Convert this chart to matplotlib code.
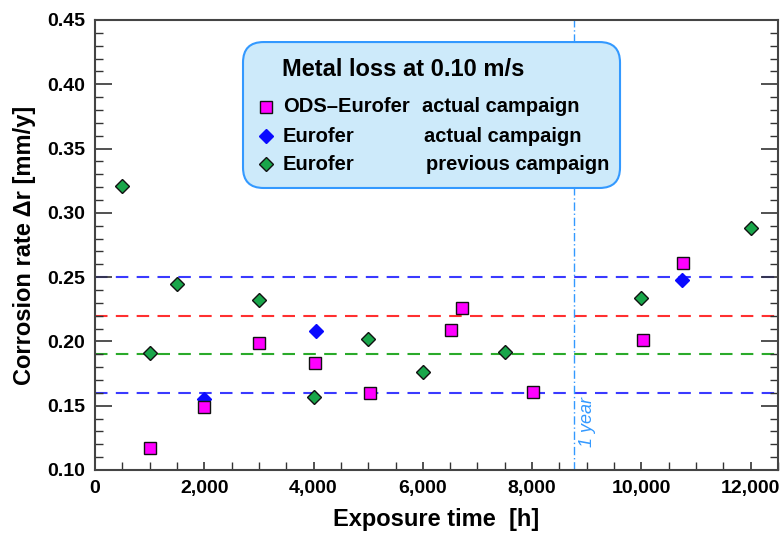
import matplotlib
matplotlib.use("Agg")
import matplotlib.pyplot as plt
from matplotlib.patches import FancyBboxPatch
from matplotlib.ticker import MultipleLocator, FuncFormatter

plt.rcParams['font.family'] = ['Liberation Sans', 'DejaVu Sans']

# Data
ods_x = [1000, 2000, 3000, 4030, 5030, 6510, 6710, 8020, 10030, 10760]
ods_y = [0.117, 0.149, 0.199, 0.183, 0.160, 0.209, 0.226, 0.161, 0.201, 0.261]
eur_act_x = [2000, 4040, 10750]
eur_act_y = [0.155, 0.208, 0.248]
eur_prev_x = [500, 1000, 1500, 3000, 4000, 5000, 6000, 7500, 10000, 12000]
eur_prev_y = [0.321, 0.191, 0.245, 0.232, 0.157, 0.202, 0.176, 0.192, 0.234, 0.288]
hlines = [0.25, 0.22, 0.19, 0.16]
hline_colors = ['#3a3aff', '#ff3030', '#2aaa2a', '#3a3aff']
one_year = 8760

legend_title = 'Metal loss at 0.10 m/s'
legend_names = ['ODS\u2013Eurofer', 'Eurofer', 'Eurofer']
legend_camp = ['actual campaign', 'actual campaign', 'previous campaign']

fig = plt.figure(figsize=(7.82, 5.37), dpi=100)
ax = fig.add_axes([95/782, 67/537, 683/782, 450/537])

for y, c in zip(hlines, hline_colors):
    ax.axhline(y, color=c, lw=1.5, ls=(0, (6, 4)), zorder=1)
ax.axvline(one_year, color='#3399ff', lw=1.0, ls=(0, (6, 2, 1, 2)), zorder=1)
ax.text(one_year + 260, 0.137, '1 year', rotation=90, color='#3399ff',
        fontsize=13, style='italic', ha='center', va='center')

ax.plot(eur_prev_x, eur_prev_y, 'D', ms=7.2, mfc='#19a64a', mec='#111111', mew=1.0, ls='none', zorder=3)
ax.plot(eur_act_x, eur_act_y, 'D', ms=7.2, mfc='#0a0aff', mec='#0a0aff', mew=1.0, ls='none', zorder=3)
ax.plot(ods_x, ods_y, 's', ms=9.2, mfc='#ff00ff', mec='#111111', mew=1.0, ls='none', zorder=4)

ax.set_xlim(0, 12500)
ax.set_ylim(0.10, 0.45)
ax.xaxis.set_major_locator(MultipleLocator(2000))
ax.xaxis.set_minor_locator(MultipleLocator(500))
ax.yaxis.set_major_locator(MultipleLocator(0.05))
ax.yaxis.set_minor_locator(MultipleLocator(0.01))
ax.xaxis.set_major_formatter(FuncFormatter(lambda v, p: f'{int(v):,}'))
ax.yaxis.set_major_formatter(FuncFormatter(lambda v, p: f'{v:.2f}'))

ax.tick_params(axis='y', which='major', direction='in', length=12, width=1.2, left=True, right=True, color='#333333')
ax.tick_params(axis='y', which='minor', direction='in', length=6, width=1.0, left=True, right=True, color='#333333')
ax.tick_params(axis='x', which='major', direction='in', length=6, width=1.2, top=False, color='#333333')
ax.tick_params(axis='x', which='minor', direction='in', length=6, width=1.0, top=False, color='#333333')
ax.tick_params(axis='both', which='major', labelsize=14, pad=7)
for lab in ax.get_xticklabels() + ax.get_yticklabels():
    lab.set_fontweight('bold')
for s in ax.spines.values():
    s.set_color('#444444')
    s.set_linewidth(1.5)

ax.set_xlabel('Exposure time  [h]', fontsize=17, fontweight='bold', labelpad=8)
ax.set_ylabel('Corrosion rate \u0394r [mm/y]', fontsize=17, fontweight='bold', labelpad=8)

# Legend box
box = FancyBboxPatch((0.2167, 0.6267), 0.552, 0.3243, boxstyle='round,pad=0,rounding_size=0.03',
                     transform=ax.transAxes, fc='#cdeafa', ec='#3399ff', lw=1.5, zorder=5,
                     mutation_aspect=683/450)
ax.add_patch(box)
ax.text(0.451, 0.889, legend_title, transform=ax.transAxes, fontsize=17, fontweight='bold',
        ha='center', va='center', zorder=6)
rows_y = [0.8067, 0.742, 0.68]
col2_x = [0.4788, 0.4817, 0.4846]
mk = [dict(marker='s', ms=8.5, mfc='#ff00ff', mec='#111111', mew=1.0),
      dict(marker='D', ms=7.5, mfc='#0a0aff', mec='#0a0aff', mew=1.0),
      dict(marker='D', ms=7.0, mfc='#19a64a', mec='#111111', mew=1.0)]
for i in range(3):
    ax.plot([0.2504], [rows_y[i]], transform=ax.transAxes, ls='none', zorder=6, clip_on=False, **mk[i])
    ax.text(0.275, rows_y[i], legend_names[i], transform=ax.transAxes, fontsize=14.5,
            fontweight='bold', ha='left', va='center', zorder=6)
    ax.text(col2_x[i], rows_y[i], legend_camp[i], transform=ax.transAxes, fontsize=14.5,
            fontweight='bold', ha='left', va='center', zorder=6)

fig.savefig('out.png', dpi=100)
